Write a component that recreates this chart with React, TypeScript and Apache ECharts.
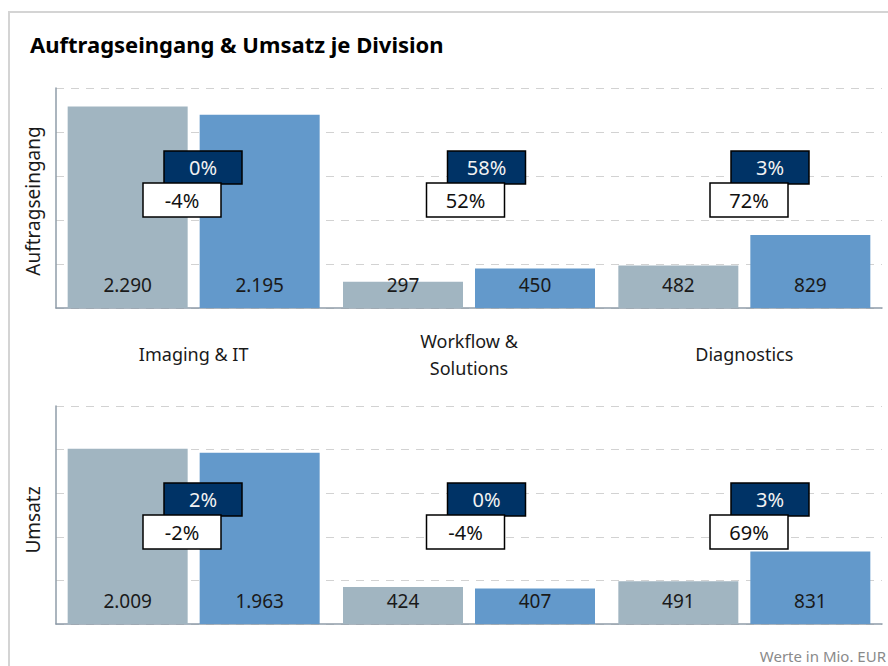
import React, { useEffect, useRef } from "react";
import * as echarts from "echarts";

const categories = ["Imaging & IT", "Workflow &\nSolutions", "Diagnostics"];
const ordersPrior = [2290, 297, 482];
const ordersCurrent = [2195, 450, 829];
const revenuePrior = [2009, 424, 491];
const revenueCurrent = [1963, 407, 831];
const ordersChangeComparable = [0, 58, 3];
const ordersChangeNominal = [-4, 52, 72];
const revenueChangeComparable = [2, 0, 3];
const revenueChangeNominal = [-2, -4, 69];
const yMax = 2500;
const yInterval = 500;

const FONT = '"Noto Sans", "Open Sans", sans-serif';
const GRAY = "#a1b5c1";
const BLUE = "#6399cb";
const NAVY = "#003366";
const AXIS = "#8f9ca9";

const fmt = (v: number) => String(v).replace(/\B(?=(\d{3})+(?!\d))/g, ".");

const makeBoxes = (topOffset: number) => (params: any, api: any) => {
  const idx = params.dataIndex;
  const p = api.coord([idx, 0]);
  const cx = p[0];
  const by = p[1];
  const darkTop = by - topOffset;
  const whiteTop = darkTop + 32;
  return {
    type: "group",
    children: [
      {
        type: "rect",
        shape: { x: cx - 29, y: darkTop, width: 78, height: 33 },
        style: { fill: NAVY, stroke: "#000", lineWidth: 1.5 },
      },
      {
        type: "text",
        x: cx + 10,
        y: darkTop + 16.5,
        style: {
          text: api.value(1) + "%",
          fill: "#f2f2f2",
          font: `20px ${FONT}`,
          align: "center",
          verticalAlign: "middle",
          textAlign: "center",
          textVerticalAlign: "middle",
        },
      },
      {
        type: "rect",
        shape: { x: cx - 50, y: whiteTop, width: 78, height: 34 },
        style: { fill: "#fff", stroke: "#000", lineWidth: 1.5 },
      },
      {
        type: "text",
        x: cx - 11,
        y: whiteTop + 17,
        style: {
          text: api.value(2) + "%",
          fill: "#111",
          font: `20px ${FONT}`,
          align: "center",
          verticalAlign: "middle",
          textAlign: "center",
          textVerticalAlign: "middle",
        },
      },
    ],
  };
};

const valueAxis = (gridIndex: number, name: string, shiftDown: number) => ({
  type: "value",
  gridIndex,
  min: 0,
  max: yMax,
  interval: yInterval,
  name,
  nameLocation: "middle",
  nameGap: 14,
  nameTextStyle: {
    fontSize: 19,
    color: "#1a1a1a",
    fontFamily: FONT,
    padding: [0, shiftDown * 2, 0, 0],
  },
  axisLabel: { show: false },
  axisTick: { show: false },
  axisLine: { show: true, lineStyle: { color: AXIS, width: 1.5 } },
  splitLine: { show: true, lineStyle: { color: "#d2d2d2", type: [8, 7], width: 1.2 } },
});

const barLabel = {
  show: true,
  position: "insideBottom",
  distance: 14,
  fontSize: 19,
  color: "#1a1a1a",
  fontFamily: FONT,
  formatter: (p: any) => fmt(p.value),
};

const boxAxis = (gridIndex: number) => ({
  type: "category",
  gridIndex,
  data: categories,
  boundaryGap: false,
  show: false,
});

export default function App() {
  const ref = useRef<HTMLDivElement>(null);
  useEffect(() => {
    const chart = echarts.init(ref.current!, null, { renderer: "svg" });
    chart.setOption({
      animation: false,
      backgroundColor: "#fff",
      textStyle: { fontFamily: FONT },
      title: [
        {
          text: "Auftragseingang & Umsatz je Division",
          left: 30,
          top: 33,
          padding: 0,
          textStyle: { fontSize: 22, fontWeight: "bold", color: "#000", fontFamily: FONT },
        },
        {
          text: "Werte in Mio. EUR",
          right: 2,
          top: 648,
          padding: 0,
          textStyle: { fontSize: 15, fontWeight: "normal", color: "#8a8a8a", fontFamily: FONT },
        },
      ],
      graphic: [
        {
          type: "rect",
          shape: { x: 9, y: 12, width: 900, height: 700 },
          style: { fill: "none", stroke: "#d4d4d4", lineWidth: 2 },
          silent: true,
        },
      ],
      grid: [
        { left: 56, top: 88, width: 826, height: 220 },
        { left: 56, top: 406, width: 826, height: 218 },
        { left: 193, top: 88, width: 567, height: 220 },
        { left: 193, top: 406, width: 567, height: 218 },
      ],
      xAxis: [
        {
          type: "category",
          gridIndex: 0,
          data: categories,
          axisLine: { lineStyle: { color: AXIS, width: 1.5 } },
          axisTick: { show: false },
          axisLabel: {
            fontSize: 18,
            color: "#1a1a1a",
            margin: 46,
            verticalAlign: "middle",
            lineHeight: 27,
            fontFamily: FONT,
          },
        },
        {
          type: "category",
          gridIndex: 1,
          data: categories,
          axisLine: { lineStyle: { color: AXIS, width: 1.5 } },
          axisTick: { show: false },
          axisLabel: { show: false },
        },
        boxAxis(2),
        boxAxis(3),
      ],
      yAxis: [
        valueAxis(0, "Auftragseingang", 3),
        valueAxis(1, "Umsatz", 5),
        { type: "value", gridIndex: 2, min: 0, max: yMax, show: false },
        { type: "value", gridIndex: 3, min: 0, max: yMax, show: false },
      ],
      series: [
        {
          type: "bar",
          xAxisIndex: 0,
          yAxisIndex: 0,
          data: ordersPrior,
          barWidth: 120,
          barGap: "10%",
          itemStyle: { color: GRAY },
          label: barLabel,
        },
        {
          type: "bar",
          xAxisIndex: 0,
          yAxisIndex: 0,
          data: ordersCurrent,
          barWidth: 120,
          barGap: "10%",
          itemStyle: { color: BLUE },
          label: barLabel,
        },
        {
          type: "bar",
          xAxisIndex: 1,
          yAxisIndex: 1,
          data: revenuePrior,
          barWidth: 120,
          barGap: "10%",
          itemStyle: { color: GRAY },
          label: barLabel,
        },
        {
          type: "bar",
          xAxisIndex: 1,
          yAxisIndex: 1,
          data: revenueCurrent,
          barWidth: 120,
          barGap: "10%",
          itemStyle: { color: BLUE },
          label: barLabel,
        },
        {
          type: "custom",
          xAxisIndex: 2,
          yAxisIndex: 2,
          data: ordersChangeComparable.map((v, i) => [i, v, ordersChangeNominal[i]]),
          renderItem: makeBoxes(157),
          z: 10,
        },
        {
          type: "custom",
          xAxisIndex: 3,
          yAxisIndex: 3,
          data: revenueChangeComparable.map((v, i) => [i, v, revenueChangeNominal[i]]),
          renderItem: makeBoxes(141),
          z: 10,
        },
      ],
    });
    return () => chart.dispose();
  }, []);
  return (
    <div
      ref={ref}
      style={{ position: "fixed", left: 0, top: 0, width: 888, height: 666 }}
    />
  );
}
